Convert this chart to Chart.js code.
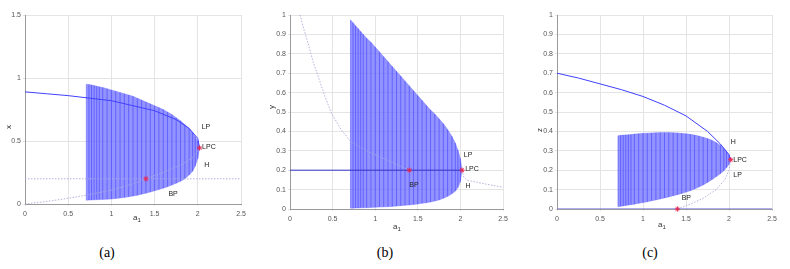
<!DOCTYPE html>
<html>
<head>
<meta charset="utf-8">
<script src="https://cdn.jsdelivr.net/npm/chart.js@4.4.1/dist/chart.umd.min.js"></script>
<style>
  body { margin: 0; background: #fff; width: 790px; height: 269px; overflow: hidden; position: relative; }
  canvas { position: absolute; top: 0; }
  .ax { position: absolute; font-family: 'Liberation Sans', Arial, sans-serif; font-size: 8px; color: #333; line-height: 1; white-space: nowrap; transform: translate(-50%, -50%); }
  .ax sub { font-size: 6px; vertical-align: -2px; }
  .yl { transform: translate(-50%, -50%) rotate(-90deg); }
  .cap { position: absolute; font-family: 'Liberation Serif', 'Times New Roman', serif; font-size: 14px; color: #000; transform: translate(-50%, -50%); }
</style>
</head>
<body>
<canvas id="chartA" width="260" height="235" style="left:0px"></canvas>
<canvas id="chartB" width="260" height="240" style="left:265px"></canvas>
<canvas id="chartC" width="260" height="240" style="left:530px"></canvas>

<div class="ax yl" style="left:9px; top:127px">x</div>
<div class="ax" style="left:137px; top:218px">a<sub>1</sub></div>
<div class="ax yl" style="left:272px; top:107px">y</div>
<div class="ax" style="left:397px; top:227px">a<sub>1</sub></div>
<div class="ax yl" style="left:540px; top:130px">z</div>
<div class="ax" style="left:662px; top:225px">a<sub>1</sub></div>

<div class="cap" style="left:107px; top:253px">(a)</div>
<div class="cap" style="left:385px; top:253px">(b)</div>
<div class="cap" style="left:650px; top:253px">(c)</div>

<script>
// limit cycle family: a1 values of the computed cycles, with max/min of each variable
const cycA1 = [0.71,0.74,0.77,0.80,0.83,0.86,0.90,0.95,1.00,1.05,1.10,1.15,1.20,1.25,1.30,1.35,1.40,1.45,1.50,1.55,1.60,1.65,1.70,1.75,1.80,1.85,1.90,1.94,1.97,2.00,2.02];
const xMax = [0.95,0.948,0.945,0.94,0.935,0.93,0.925,0.915,0.905,0.895,0.885,0.875,0.865,0.855,0.84,0.825,0.81,0.795,0.78,0.765,0.75,0.73,0.71,0.685,0.66,0.63,0.6,0.565,0.535,0.5,0.445];
const xMin = [0.03,0.031,0.032,0.033,0.034,0.035,0.036,0.038,0.04,0.043,0.047,0.052,0.057,0.063,0.07,0.078,0.086,0.095,0.105,0.115,0.125,0.137,0.15,0.165,0.18,0.2,0.23,0.26,0.3,0.36,0.445];
const yMax = [0.975,0.96,0.945,0.93,0.915,0.9,0.88,0.86,0.835,0.81,0.785,0.76,0.735,0.71,0.685,0.66,0.635,0.61,0.585,0.56,0.535,0.51,0.49,0.465,0.44,0.41,0.375,0.34,0.305,0.26,0.2];
const yMin = [0.004,0.004,0.005,0.005,0.006,0.006,0.007,0.008,0.009,0.01,0.011,0.012,0.013,0.015,0.017,0.019,0.021,0.023,0.026,0.029,0.032,0.036,0.041,0.047,0.055,0.065,0.078,0.092,0.11,0.14,0.2];
const zMax = [0.378,0.38,0.381,0.382,0.383,0.384,0.386,0.388,0.39,0.391,0.392,0.393,0.394,0.394,0.394,0.393,0.392,0.39,0.388,0.385,0.381,0.376,0.37,0.363,0.355,0.343,0.328,0.312,0.297,0.278,0.254];
const zMin = [0.012,0.014,0.016,0.018,0.02,0.022,0.025,0.029,0.033,0.037,0.042,0.047,0.052,0.057,0.062,0.068,0.074,0.08,0.087,0.094,0.103,0.113,0.124,0.137,0.151,0.166,0.182,0.197,0.212,0.23,0.254];

// equilibrium branches, panel (a)
const xUpA1 = [0,0.25,0.5,0.75,1.0,1.25,1.5,1.75,1.9,2.0,2.02];
const xUp = [0.89,0.875,0.86,0.84,0.82,0.78,0.74,0.67,0.6,0.52,0.445];
const xLoA1 = [0,0.25,0.5,0.75,1.0,1.25,1.4,1.6,1.8,1.95,2.02];
const xLo = [0,0.02,0.045,0.075,0.11,0.16,0.2,0.25,0.31,0.37,0.445];
const xFlatA1 = [0,2.5];
const xFlat = [0.2,0.2];

// panel (b)
const yFlatA1 = [0,2.02];
const yFlat = [0.2,0.2];
const yRightA1 = [2.02,2.04,2.08,2.2,2.35,2.5];
const yRight = [0.2,0.165,0.148,0.137,0.124,0.112];
const yLeftA1 = [0.118,0.16,0.215,0.27,0.333,0.41,0.49,0.6,0.713,0.9,1.1,1.4];
const yLeft = [1.0,0.93,0.85,0.76,0.68,0.58,0.49,0.41,0.347,0.3,0.26,0.2];

// panel (c)
const zUpA1 = [0,0.25,0.5,0.75,1.0,1.25,1.5,1.75,1.9,2.0,2.02];
const zUp = [0.7,0.675,0.645,0.615,0.58,0.535,0.48,0.4,0.335,0.28,0.254];
const zBrA1 = [1.4,1.55,1.7,1.85,1.95,2.0,2.02];
const zBr = [0,0.025,0.055,0.1,0.15,0.2,0.254];
const zFlatA1 = [0,2.5];
const zFlat = [0,0];

// special points (red stars) and their labels
const ptsA = [[1.4,0.2],[2.02,0.445]];
const ptsB = [[1.4,0.2],[2.02,0.2]];
const ptsC = [[1.4,0],[2.02,0.254]];
const labA = [['LP',2.045,0.608],['LPC',2.05,0.45],['H',2.075,0.31],['BP',1.66,0.077]];
const labB = [['LP',2.04,0.278],['LPC',2.056,0.205],['H',2.06,0.119],['BP',1.4,0.122]];
const labC = [['H',2.02,0.344],['LPC',2.05,0.254],['LP',2.05,0.174],['BP',1.45,0.058]];

const zip = (xs, ys) => xs.map((x, i) => ({x: x, y: ys[i]}));

// each cycle shows up as a vertical stroke between its min and max
const cycleStrokes = (lo, hi) => {
    const pts = [];
    cycA1.forEach((a, i) => {
        pts.push({x: a, y: lo[i]}, {x: a, y: hi[i]}, {x: a, y: null});
    });
    return pts;
};

const solid = (data, color) => ({
    data: data, showLine: true, borderColor: color, borderWidth: 1,
    pointRadius: 0, fill: false, order: 1
});
const dotted = (data) => ({
    data: data, showLine: true, borderColor: '#aaaad8', borderWidth: 0.9,
    borderDash: [1.5, 1.5], pointRadius: 0, fill: false, order: 2
});

const labelPlugin = {
    id: 'bifLabels',
    afterDatasetsDraw(chart, args, opts) {
        const ctx = chart.ctx;
        const xs = chart.scales.x, ys = chart.scales.y;
        ctx.save();
        ctx.font = '7px "Liberation Sans", Arial, sans-serif';
        ctx.fillStyle = '#222';
        ctx.textAlign = 'left';
        ctx.textBaseline = 'middle';
        opts.items.forEach(l => {
            ctx.fillText(l[0], xs.getPixelForValue(l[1]), ys.getPixelForValue(l[2]));
        });
        ctx.restore();
    }
};

const tickFmt = v => String(Math.round(v * 100) / 100);

const makeChart = (id, cfg) => {
    const datasets = [
        // star markers
        {
            data: cfg.pts.map(p => ({x: p[0], y: p[1]})), pointStyle: 'star',
            pointRadius: 2.6, borderColor: '#e8254f', borderWidth: 1,
            backgroundColor: '#e8254f', showLine: false, clip: false, order: 0
        },
        ...cfg.lines,
        // cycle envelope (filled between max and min)
        {
            data: zip(cycA1, cfg.hi), showLine: true, borderColor: 'rgba(110,110,255,0.6)',
            borderWidth: 0.6, pointRadius: 0, fill: '+1',
            backgroundColor: 'rgba(105,105,255,0.72)', order: 5
        },
        {
            data: zip(cycA1, cfg.lo), showLine: true, borderColor: 'rgba(110,110,255,0.6)',
            borderWidth: 0.6, pointRadius: 0, fill: false, order: 5
        },
        {
            data: cycleStrokes(cfg.lo, cfg.hi), showLine: true, spanGaps: false,
            borderColor: 'rgba(50,50,255,0.5)', borderWidth: 1, pointRadius: 0,
            fill: false, order: 4
        }
    ];

    return new Chart(document.getElementById(id), {
        type: 'scatter',
        data: { datasets: datasets },
        plugins: [labelPlugin],
        options: {
            responsive: false,
            animation: false,
            devicePixelRatio: 1,
            layout: { padding: { left: 0, top: 15, right: cfg.padRight, bottom: 0 } },
            plugins: {
                legend: { display: false },
                tooltip: { enabled: false },
                bifLabels: { items: cfg.labels }
            },
            scales: {
                x: {
                    type: 'linear', min: 0, max: 2.5,
                    afterFit: s => { s.height = cfg.xHeight; },
                    ticks: {
                        stepSize: 0.5, padding: 4, maxRotation: 0, callback: tickFmt,
                        color: '#555', font: { family: 'Liberation Sans', size: 7 }
                    },
                    grid: { color: '#e4e4e4', lineWidth: 1, tickLength: 2 },
                    border: { color: '#9a9a9a' }
                },
                y: {
                    type: 'linear', min: 0, max: cfg.yMax,
                    afterFit: s => { s.width = cfg.yWidth; },
                    ticks: {
                        stepSize: cfg.yStep, padding: 2, callback: tickFmt,
                        color: '#555', font: { family: 'Liberation Sans', size: 7 }
                    },
                    grid: { color: '#e4e4e4', lineWidth: 1, tickLength: 2 },
                    border: { color: '#9a9a9a' }
                }
            }
        }
    });
};

makeChart('chartA', {
    hi: xMax, lo: xMin, pts: ptsA, labels: labA,
    yMax: 1.5, yStep: 0.5, yWidth: 25, xHeight: 31, padRight: 19,
    lines: [
        solid(zip(xUpA1, xUp), '#4040ff'),
        dotted(zip(xLoA1, xLo)),
        dotted(zip(xFlatA1, xFlat))
    ]
});

makeChart('chartB', {
    hi: yMax, lo: yMin, pts: ptsB, labels: labB,
    yMax: 1, yStep: 0.1, yWidth: 25, xHeight: 31, padRight: 22,
    lines: [
        solid(zip(yFlatA1, yFlat), '#3535c8'),
        dotted(zip(yRightA1, yRight)),
        dotted(zip(yLeftA1, yLeft))
    ]
});

makeChart('chartC', {
    hi: zMax, lo: zMin, pts: ptsC, labels: labC,
    yMax: 1, yStep: 0.1, yWidth: 27, xHeight: 31, padRight: 18,
    lines: [
        solid(zip(zUpA1, zUp), '#4040ff'),
        dotted(zip(zBrA1, zBr)),
        solid(zip(zFlatA1, zFlat), '#5a5ae0')
    ]
});
</script>
</body>
</html>
